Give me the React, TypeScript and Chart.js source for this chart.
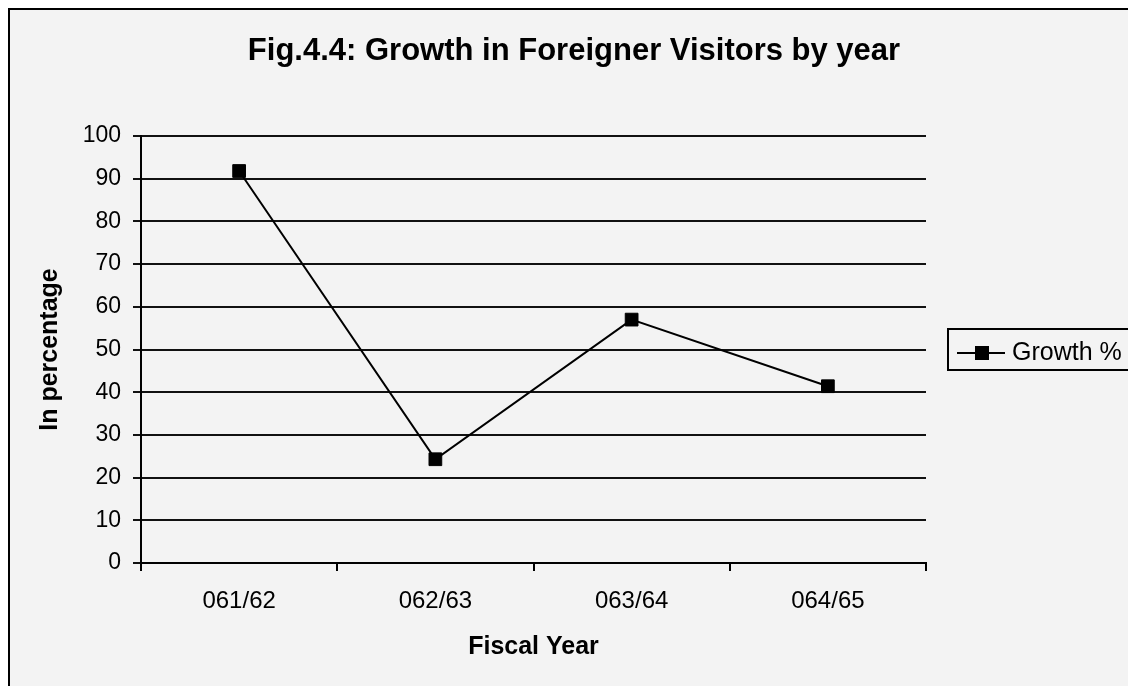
import React, { useEffect, useRef } from "react";
import { Chart, registerables } from "chart.js";

Chart.register(...registerables);

const categories = ["061/62", "062/63", "063/64", "064/65"];
const growthValues = [91.8, 24.3, 57.0, 41.4];
const seriesLabel = "Growth %";
const chartTitle = "Fig.4.4: Growth in Foreigner Visitors by year";
const xAxisTitle = "Fiscal Year";
const yAxisTitle = "In percentage";
const yMin = 0;
const yMax = 100;
const yStep = 10;

const FONT = "'Liberation Sans', Arial, sans-serif";

const boxLegendPlugin = {
  id: "boxLegend",
  afterDraw(chart: any) {
    const { ctx, chartArea } = chart;
    const ds = chart.data.datasets[0];
    const left = chartArea.right + 22;
    const midY = (chartArea.top + chartArea.bottom) / 2;
    const top = midY - 20.5;
    ctx.save();
    ctx.strokeStyle = "#000";
    ctx.lineWidth = 2;
    ctx.beginPath();
    ctx.moveTo(left + 400, top);
    ctx.lineTo(left, top);
    ctx.lineTo(left, top + 41);
    ctx.lineTo(left + 400, top + 41);
    ctx.stroke();
    const symY = midY + 3.5;
    ctx.beginPath();
    ctx.moveTo(left + 9, symY);
    ctx.lineTo(left + 57, symY);
    ctx.stroke();
    ctx.fillStyle = "#000";
    ctx.fillRect(left + 34 - 7, symY - 7, 14, 14);
    ctx.font = `25px ${FONT}`;
    ctx.textBaseline = "alphabetic";
    ctx.textAlign = "left";
    ctx.fillText(ds.label, left + 64, midY + 10);
    ctx.restore();
  },
};

export default function App() {
  const canvasRef = useRef<HTMLCanvasElement | null>(null);

  useEffect(() => {
    document.documentElement.style.overflow = "hidden";
    document.body.style.overflow = "hidden";
    const canvas = canvasRef.current;
    if (!canvas) return;
    const chart = new Chart(canvas, {
      type: "line",
      data: {
        labels: categories,
        datasets: [
          {
            label: seriesLabel,
            data: growthValues,
            borderColor: "#000",
            borderWidth: 2,
            backgroundColor: "#000",
            pointStyle: "rect",
            pointRadius: 9,
            pointHoverRadius: 9,
            pointBackgroundColor: "#000",
            pointBorderColor: "#000",
            pointBorderWidth: 1,
            tension: 0,
            fill: false,
            yAxisID: "y",
          },
        ],
      },
      options: {
        responsive: false,
        animation: false,
        devicePixelRatio: 1,
        layout: { padding: { left: 10, right: 0, top: 0, bottom: 0 } },
        plugins: {
          legend: { display: false },
          tooltip: { enabled: false },
          title: {
            display: true,
            text: chartTitle,
            color: "#000",
            font: { family: FONT, size: 31, weight: "bold", lineHeight: 1.2 },
            padding: { top: 23, bottom: 65.8 },
          },
        },
        scales: {
          x: {
            type: "category",
            offset: true,
            grid: {
              offset: true,
              drawOnChartArea: false,
              drawTicks: true,
              tickLength: 8,
              color: "#000",
              lineWidth: 2,
            },
            border: { display: true, color: "#000", width: 2 },
            ticks: {
              color: "#000",
              font: { family: FONT, size: 24 },
              padding: 16,
              maxRotation: 0,
            },
            title: {
              display: true,
              text: xAxisTitle,
              color: "#000",
              font: { family: FONT, size: 25, weight: "bold", lineHeight: 1.2 },
              padding: { top: 0, bottom: 24 },
            },
            afterFit: (s: any) => {
              s.height = 123;
            },
          },
          y: {
            min: yMin,
            max: yMax,
            ticks: {
              stepSize: yStep,
              color: "#000",
              font: { family: FONT, size: 23 },
              padding: 12,
            },
            grid: {
              color: "#111",
              lineWidth: 2,
              tickLength: 8,
              drawTicks: true,
            },
            border: { display: true, color: "#000", width: 2 },
            title: {
              display: true,
              text: yAxisTitle,
              color: "#000",
              font: { family: FONT, size: 25, weight: "bold", lineHeight: 1.2 },
              padding: { top: 15.6, bottom: 0 },
            },
            afterFit: (s: any) => {
              s.width = 121;
            },
          },
          legendSpace: {
            position: "right",
            display: true,
            min: yMin,
            max: yMax,
            grid: { display: false, drawTicks: false },
            border: { display: false },
            ticks: { display: false },
            afterFit: (s: any) => {
              s.width = 202;
            },
          },
        },
      },
      plugins: [boxLegendPlugin],
    });
    return () => chart.destroy();
  }, []);

  return (
    <div
      style={{
        position: "fixed",
        left: 8,
        top: 8,
        width: 1140,
        height: 700,
        boxSizing: "border-box",
        borderLeft: "2px solid #000",
        borderTop: "2px solid #000",
        background: "#f3f3f3",
        overflow: "hidden",
      }}
    >
      <canvas ref={canvasRef} width={1118} height={676} style={{ display: "block" }} />
    </div>
  );
}
